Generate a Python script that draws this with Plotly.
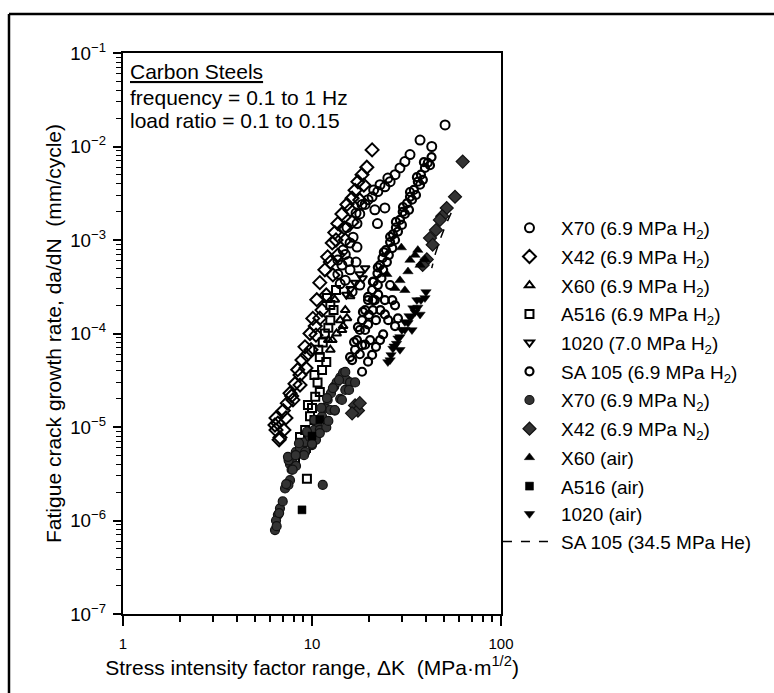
import plotly.graph_objects as go

# ---------------- data ----------------
x70_h2_dk = [50.6, 37.3, 43.0, 33.0, 31.0, 29.2, 27.5, 25.9, 24.3, 22.3, 20.8, 19.8, 24.3, 21.5, 22.2,
             17.3, 16.5, 17.3, 15.9, 19.1, 17.9, 15.0, 14.4, 13.7, 14.1, 15.6, 15.9, 17.1, 15.0, 17.9, 16.3,
             25.2, 22.9, 21.2, 18.4, 17.1, 15.3, 14.6, 13.7]
x70_h2_da = [1.7e-2, 1.17e-2, 1.0e-2, 8.2e-3, 6.9e-3, 5.9e-3, 5.0e-3, 4.2e-3, 3.7e-3, 3.3e-3, 2.9e-3,
             2.7e-3, 2.2e-3, 2.1e-3, 1.5e-3, 1.5e-3, 1.07e-3, 8.4e-4, 9.3e-4, 2.4e-3, 1.9e-3, 7.0e-4,
             5.4e-4, 4.3e-4, 3.4e-4, 5.9e-4, 4.8e-4, 5.8e-4, 3.7e-4, 3.3e-4, 2.8e-4,
             4.6e-3, 3.9e-3, 3.43e-3, 2.4e-3, 1.94e-3, 1.36e-3, 7.8e-4, 6.1e-4]

x42_h2_dk = [6.77, 6.6, 7.05, 7.4, 7.65, 8.13, 8.4, 8.85, 9.18, 9.76, 10.1, 10.6, 11.0, 11.7, 12.1, 12.8,
             13.2, 13.7, 14.4, 15.3, 16.3, 16.9, 17.5, 18.4, 19.5, 20.8, 7.1, 6.45, 7.8, 8.64, 9.4, 10.4,
             11.3, 12.5, 13.4, 14.8, 15.9, 6.37, 6.7, 6.45,
             7.28, 7.93, 8.64, 9.29, 9.88, 10.5, 11.0, 11.9, 12.9, 13.7, 15.0, 16.3, 17.9, 18.8]
x42_h2_da = [7.7e-6, 1.1e-5, 1.5e-5, 1.8e-5, 2.3e-5, 2.9e-5, 4.1e-5, 5.2e-5, 7.2e-5, 1.0e-4, 1.45e-4,
             2.3e-4, 3.5e-4, 4.8e-4, 6.6e-4, 9.3e-4, 1.2e-3, 1.5e-3, 1.9e-3, 2.4e-3, 2.8e-3, 3.4e-3,
             4.2e-3, 5.0e-3, 6.0e-3, 9.2e-3, 9.3e-6, 9.3e-6, 2.15e-5, 3.6e-5, 5.9e-5, 1.2e-4, 1.78e-4,
             5.8e-4, 1.0e-3, 1.35e-3, 2.1e-3, 1.05e-5, 7.3e-6, 1.25e-5,
             1.25e-5, 1.95e-5, 2.81e-5, 4.27e-5, 6.7e-5, 9.6e-5, 1.46e-4, 2.58e-4, 4.23e-4, 6.9e-4,
             1.0e-3, 1.56e-3, 2.68e-3, 3.87e-3]

x60_h2_dk = [13.2, 14.1, 13.5, 12.5, 15.0, 15.9, 12.8, 14.6, 14.4, 12.2, 15.3]
x60_h2_da = [2.3e-4, 1.39e-4, 1.0e-4, 6.7e-5, 1.78e-4, 2.5e-4, 8.5e-5, 1.2e-4, 1.09e-4, 8.5e-5, 1.46e-4]

a516_h2_dk = [12.0, 13.0, 12.5, 11.7, 11.4, 11.0, 11.3, 10.7, 10.4, 10.0, 9.76, 9.2, 8.85, 8.4, 9.4,
              12.5, 13.4, 12.2, 10.8, 11.9, 10.3, 11.0, 9.52, 10.3, 8.64, 9.29, 8.13]
a516_h2_da = [2.4e-4, 1.78e-4, 1.39e-4, 1.0e-4, 8.0e-5, 5.6e-5, 4.07e-5, 3.0e-5, 2.1e-5, 1.6e-5,
              1.3e-5, 9.3e-6, 6.8e-6, 5.3e-6, 2.8e-6,
              2.02e-4, 2.92e-4, 1.15e-4, 6.7e-5, 4.96e-5, 3.6e-5, 2.37e-5, 1.72e-5, 1.19e-5, 7.8e-6,
              5.96e-6, 4.4e-6]

s1020_h2_dk = [16.9, 17.9, 19.1, 15.2, 18.5, 16.0]
s1020_h2_da = [3.5e-4, 4.3e-4, 5.0e-4, 2.6e-4, 3.9e-4, 3.0e-4]

sa105_h2_dk = [42.9, 41.0, 39.6, 37.7, 36.3, 34.6, 33.0, 31.8, 30.2, 29.2, 27.8, 26.8, 25.9, 24.6, 23.6,
               22.9, 22.2, 21.2, 20.8, 19.8, 19.1, 18.4, 17.9, 17.3, 16.9, 16.3, 37.3, 33.8, 31.0, 28.5,
               26.6, 24.9, 23.3, 22.4, 21.0, 19.8, 19.1, 21.8, 24.3, 25.9, 20.3, 17.9,
               21.5, 24.3, 22.9, 20.8, 26.6, 27.5,
               42.1, 38.6, 35.5, 32.6, 29.9, 27.5, 25.5, 23.8, 22.3, 21.0, 20.0, 19.1, 18.4,
               39.1, 35.9, 33.0, 30.3, 27.8, 25.9, 24.0, 22.3, 21.0, 19.8, 18.6, 17.5, 16.7, 15.9,
               23.0, 25.3, 23.8, 21.8, 19.8, 18.4, 27.5, 28.5]
sa105_h2_da = [7.7e-3, 6.7e-3, 5.9e-3, 5.0e-3, 4.2e-3, 3.43e-3, 2.9e-3, 2.47e-3, 2.0e-3, 1.64e-3,
               1.36e-3, 1.15e-3, 9.5e-4, 7.8e-4, 6.4e-4, 5.4e-4, 4.4e-4, 3.6e-4, 2.92e-4, 2.28e-4,
               1.78e-4, 1.39e-4, 1.09e-4, 8.5e-5, 6.7e-5, 5.2e-5, 3.9e-3, 2.7e-3, 1.9e-3, 1.23e-3,
               8.2e-4, 5.8e-4, 3.9e-4, 2.6e-4, 1.78e-4, 1.25e-4, 7.6e-5, 1.39e-4, 2.28e-4, 3.3e-4,
               8.5e-5, 6.0e-5, 2.28e-4, 1.6e-4, 8.5e-5, 5.9e-5, 2.28e-4, 1.2e-4,
               6.3e-3, 4.4e-3, 3.03e-3, 2.1e-3, 1.45e-3, 1.0e-3, 6.9e-4, 4.8e-4, 3.3e-4, 2.28e-4,
               1.58e-4, 1.09e-4, 7.5e-5,
               6.8e-3, 4.7e-3, 3.26e-3, 2.25e-3, 1.56e-3, 1.08e-3, 7.4e-4, 5.1e-4, 3.56e-4, 2.46e-4,
               1.70e-4, 1.17e-4, 8.1e-5, 5.6e-5,
               1.78e-4, 1.39e-4, 9.8e-5, 7.2e-5, 5.0e-5, 3.9e-5, 2.0e-4, 1.45e-4]

x70_n2_dk = [7.65, 7.9, 8.2, 8.64, 9.2, 9.76, 10.3, 10.7, 11.3, 11.7, 12.1, 12.6, 13.1, 13.5, 14.1, 14.6,
             15.2, 15.9, 12.5, 11.0, 7.52, 7.65, 7.2, 6.77, 6.6, 6.45, 6.37, 6.5, 7.0, 7.5, 7.8, 11.4,
             9.2, 10.5, 11.9, 13.2, 14.1, 15.0, 10.0,
             8.23, 9.07, 10.0, 11.0, 12.2, 13.2, 14.4, 15.7, 16.9,
             7.46, 8.53, 9.41, 10.3, 11.2, 12.0, 12.9, 13.9, 15.0,
             6.7, 7.3, 7.9, 8.2]
x70_n2_da = [4.0e-6, 4.6e-6, 5.4e-6, 6.0e-6, 6.9e-6, 7.8e-6, 9.3e-6, 1.13e-5, 1.3e-5, 1.6e-5, 1.95e-5,
             2.3e-5, 2.7e-5, 3.0e-5, 3.4e-5, 3.8e-5, 3.2e-5, 3.0e-5, 1.52e-5, 9.3e-6, 4.4e-6, 2.7e-6,
             2.2e-6, 1.35e-6, 1.15e-6, 1.0e-6, 7.9e-7, 8.7e-7, 1.6e-6, 2.4e-6, 3.5e-6, 2.4e-6,
             5.4e-6, 7.3e-6, 9.9e-6, 1.5e-5, 2.0e-5, 2.5e-5, 6.4e-6,
             3.83e-6, 5.0e-6, 6.6e-6, 8.6e-6, 1.16e-5, 1.52e-5, 1.95e-5, 2.49e-5, 3.0e-5,
             4.8e-6, 6.7e-6, 8.9e-6, 1.19e-5, 1.6e-5, 2.04e-5, 2.61e-5, 3.18e-5, 3.88e-5,
             1.2e-6, 2.45e-6, 3.5e-6, 5.0e-6]

x42_n2_dk = [62.7, 57.1, 51.6, 48.9, 47.5, 45.3, 42.1, 43.5, 16.9, 17.5, 17.9, 16.3, 40.5, 38.5]
x42_n2_da = [6.9e-3, 2.9e-3, 2.2e-3, 1.8e-3, 1.64e-3, 1.28e-3, 1.05e-3, 8.9e-4, 1.7e-5, 1.5e-5,
             1.8e-5, 1.4e-5, 6.2e-4, 5.4e-4]

x60_air_dk = [29.7, 24.9, 33.0, 35.1, 37.3, 39.6, 32.2, 29.2, 27.5, 36.3, 31.0]
x60_air_da = [8.3e-4, 4.3e-4, 6.1e-4, 6.9e-4, 5.4e-4, 6.2e-4, 4.6e-4, 3.7e-4, 3.05e-4, 7.8e-4, 2.9e-4]

a516_air_dk = [8.85, 10.0, 11.0]
a516_air_da = [1.3e-6, 8.0e-6, 1.2e-5]

s1020_air_dk = [37.7, 36.3, 35.1, 33.4, 32.2, 31.0, 29.2, 28.0, 26.8, 25.9, 37.3, 33.8, 29.2, 39.6,
                35.9, 34.2, 32.6, 31.0, 29.9, 28.5, 27.2, 26.2, 25.2, 40.1]
s1020_air_da = [2.28e-4, 1.9e-4, 1.7e-4, 1.5e-4, 1.3e-4, 1.1e-4, 9.2e-5, 7.8e-5, 6.9e-5, 5.2e-5,
                1.6e-4, 1.09e-4, 6.7e-5, 2.4e-4,
                2.28e-4, 1.87e-4, 1.54e-4, 1.33e-4, 1.09e-4, 8.9e-5, 7.3e-5, 5.9e-5, 4.96e-5, 2.78e-4]

sa105_he_dk = [54.5, 51.0, 47.5, 45.0, 43.0]
sa105_he_da = [1.95e-3, 1.45e-3, 1.0e-3, 7.2e-4, 5.0e-4]

# ---------------- figure ----------------
FONT = "Liberation Sans, Arial, Helvetica, sans-serif"
fig = go.Figure()

def add(name, xs, ys, symbol, size, fill, line_col="black", lw=2.0, group=None):
    fig.add_trace(go.Scatter(
        x=xs, y=ys, mode="markers", name=name, legendgroup=group or name,
        marker=dict(symbol=symbol, size=size, color=fill,
                    line=dict(color=line_col, width=lw))))

add("X70 (6.9 MPa H<sub>2</sub>)", x70_h2_dk, x70_h2_da, "circle-open", 9, "black")
add("X42 (6.9 MPa H<sub>2</sub>)", x42_h2_dk, x42_h2_da, "diamond-open", 10, "black")
add("X60 (6.9 MPa H<sub>2</sub>)", x60_h2_dk, x60_h2_da, "triangle-up-open", 8, "black")
add("A516 (6.9 MPa H<sub>2</sub>)", a516_h2_dk, a516_h2_da, "square-open", 8, "black")
add("1020 (7.0 MPa H<sub>2</sub>)", s1020_h2_dk, s1020_h2_da, "triangle-down-open", 8, "black")
add("SA 105 (6.9 MPa H<sub>2</sub>)", sa105_h2_dk, sa105_h2_da, "circle-open", 8, "black", lw=2.2)
add("X70 (6.9 MPa N<sub>2</sub>)", x70_n2_dk, x70_n2_da, "circle", 9, "#333333", "#111111", 1.2)
add("X42 (6.9 MPa N<sub>2</sub>)", x42_n2_dk, x42_n2_da, "diamond", 10, "#333333", "#111111", 1.2)
add("X60 (air)", x60_air_dk, x60_air_da, "triangle-up", 9, "black", "black", 0.5)
add("A516 (air)", a516_air_dk, a516_air_da, "square", 8, "black", "black", 0.5, group="tail")
add("1020 (air)", s1020_air_dk, s1020_air_da, "triangle-down", 9, "black", "black", 0.5, group="tail")
fig.add_trace(go.Scatter(x=sa105_he_dk, y=sa105_he_da, mode="lines", name="SA 105 (34.5 MPa He)",
                         legendgroup="tail", line=dict(color="black", width=1.5, dash="dash")))

fig.update_layout(
    width=774, height=693,
    margin=dict(l=123, r=273, t=53, b=79),
    paper_bgcolor="white", plot_bgcolor="white",
    font=dict(family=FONT, color="black", size=15),
    showlegend=True,
    legend=dict(x=0.992, y=0.722, xanchor="left", yanchor="top",
                font=dict(size=19, family=FONT), tracegroupgap=1,
                itemwidth=53, bgcolor="rgba(0,0,0,0)", borderwidth=0),
)

fig.update_xaxes(
    type="log", range=[0, 2], dtick=1,
    showline=True, linecolor="black", linewidth=2, mirror=True,
    showgrid=False, zeroline=False,
    ticks="outside", ticklen=10, tickwidth=1.5, tickcolor="black",
    minor=dict(ticks="outside", ticklen=6, tickwidth=1.5, tickcolor="black", dtick="D1", showgrid=False),
    tickfont=dict(size=15, family=FONT), ticklabelstandoff=5,
    title=dict(text="Stress intensity factor range, ΔK&nbsp;&nbsp;(MPa·m<sup>1/2</sup>)",
               font=dict(size=21, family=FONT), standoff=9),
)
fig.update_yaxes(
    type="log", range=[-7, -1], dtick=1, exponentformat="power",
    showline=True, linecolor="black", linewidth=2, mirror=True,
    showgrid=False, zeroline=False,
    ticks="outside", ticklen=8, tickwidth=1.5, tickcolor="black",
    minor=dict(ticks="outside", ticklen=5, tickwidth=1.2, tickcolor="black", dtick="D1", showgrid=False),
    tickfont=dict(size=15, family=FONT), ticklabelstandoff=4,
    title=dict(text="Fatigue crack growth rate, da/dN&nbsp;&nbsp;(mm/cycle)",
               font=dict(size=21, family=FONT), standoff=3),
)

# annotation text box
fig.add_annotation(xref="paper", yref="paper", x=0.013, y=0.967, xanchor="left", yanchor="middle",
                   text="<u>Carbon Steels</u>", showarrow=False, font=dict(size=21, family=FONT))
fig.add_annotation(xref="paper", yref="paper", x=0.013, y=0.921, xanchor="left", yanchor="middle",
                   text="frequency = 0.1 to 1 Hz", showarrow=False, font=dict(size=21, family=FONT))
fig.add_annotation(xref="paper", yref="paper", x=0.013, y=0.879, xanchor="left", yanchor="middle",
                   text="load ratio = 0.1 to 0.15", showarrow=False, font=dict(size=21, family=FONT))

# outer frame (top and left edges of the figure box)
fig.add_shape(type="line", xref="paper", yref="paper", x0=-0.3016, x1=1.75, y0=1.0695, y1=1.0695,
              line=dict(color="black", width=2.5))
fig.add_shape(type="line", xref="paper", yref="paper", x0=-0.3016, x1=-0.3016, y0=-0.145, y1=1.0695,
              line=dict(color="black", width=2.5))

fig.write_html("out.html")
